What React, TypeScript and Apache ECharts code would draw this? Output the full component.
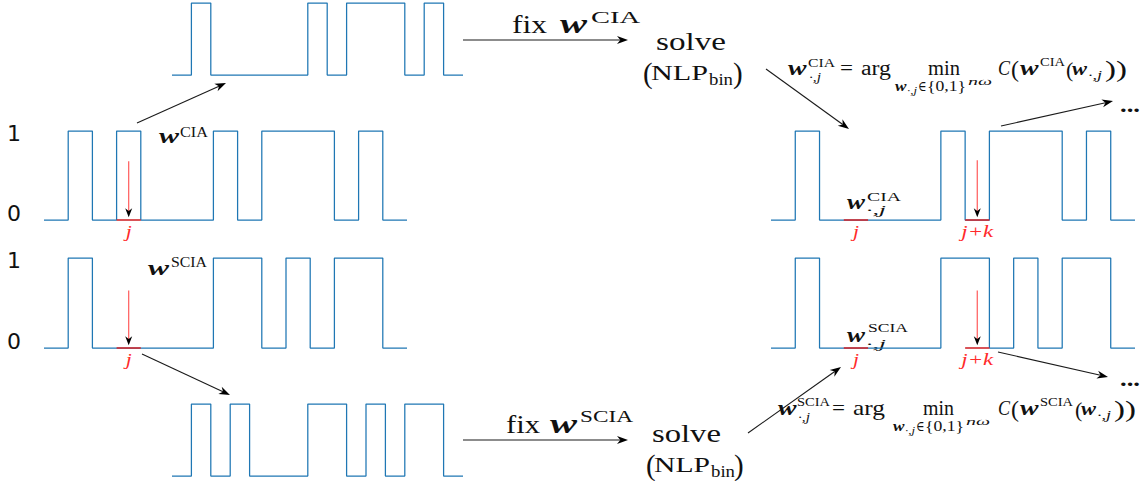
import React, { useEffect, useRef } from "react";
import * as echarts from "echarts";

// ---------------- data ----------------
const N_STEPS = 15;
const wTopNLP = [0, 1, 0, 0, 0, 0, 0, 1, 0, 1, 1, 1, 0, 1, 0];
const wCIA = [0, 1, 0, 1, 0, 0, 0, 1, 0, 1, 1, 1, 0, 1, 0];
const wSCIA = [0, 1, 0, 0, 0, 0, 0, 1, 1, 0, 1, 0, 1, 1, 0];
const wBottomNLP = [0, 1, 0, 1, 0, 0, 0, 1, 1, 0, 1, 0, 1, 1, 0];
const wCIANext = [0, 1, 0, 0, 0, 0, 0, 1, 0, 1, 1, 1, 0, 1, 0];
const wSCIANext = [0, 1, 0, 0, 0, 0, 0, 1, 1, 0, 1, 0, 1, 1, 0];
const yTickLabels = ["1", "0"];
const J = 3;
const K = 5;

const SEQS = [wTopNLP, wCIA, wSCIA, wBottomNLP, wCIANext, wSCIANext];
const HIGHLIGHTS = [[], [J], [J], [], [J, J + K], [J, J + K]];
const PROBES = [null, J, J, null, J + K, J + K];
const PROBE_TOP = [0, 0.66, 0.64, 0, 0.67, 0.64];
const PROBE_LABELS = [[], ["j"], ["j"], [], ["j", "j+k"], ["j", "j+k"]];

// ---------------- layout / style ----------------
const GRIDS = [
  { left: 172, top: 3, width: 291, height: 72 },
  { left: 44, top: 131, width: 363, height: 89 },
  { left: 44, top: 258, width: 363, height: 90 },
  { left: 172, top: 404, width: 291, height: 72 },
  { left: 771, top: 131, width: 364, height: 89 },
  { left: 771, top: 258, width: 364, height: 90 },
];
const INK = "#111111";
const BLUE = "#1f77b4";
const RED_SEG = "#d0282e";
const RED_ARROW = "#ff5a5a";
const RED_TEXT = "#ff2a2a";
const SERIF = '"Liberation Serif", "DejaVu Serif", serif';
const SANS = '"DejaVu Sans", sans-serif';

let mctx: CanvasRenderingContext2D | null = null;
function measure(s: string, size: number, fam: string, it: boolean, b: boolean) {
  if (!mctx) mctx = document.createElement("canvas").getContext("2d");
  if (!mctx) return s.length * size * 0.5;
  mctx.font = `${it ? "italic " : ""}${b ? "bold " : ""}${size}px ${fam}`;
  return mctx.measureText(s).width || 1;
}

type TO = { w?: number; it?: boolean; b?: boolean; c?: string; fam?: string; align?: string };
function T(s: string, x: number, base: number, size: number, o: TO = {}) {
  const fam = o.fam ?? SERIF;
  const it = !!o.it;
  const b = !!o.b;
  const sx = o.w ? o.w / measure(s, size, fam, it, b) : 1;
  return {
    type: "text",
    x,
    y: base - 0.34 * size,
    scaleX: sx,
    silent: true,
    style: {
      text: s,
      fill: o.c ?? INK,
      fontSize: size,
      fontFamily: fam,
      fontStyle: it ? "italic" : "normal",
      fontWeight: b ? "bold" : "normal",
      align: o.align ?? "left",
      verticalAlign: "middle",
    },
  };
}

function arrow(x1: number, y1: number, x2: number, y2: number, shaft = INK, head = INK, lw = 1.1, hl = 11, hw = 4) {
  const dx = x2 - x1, dy = y2 - y1;
  const L = Math.hypot(dx, dy);
  const ux = dx / L, uy = dy / L;
  const bx = x2 - ux * hl, by = y2 - uy * hl;
  const nx = -uy, ny = ux;
  const mx = bx + ux * hl * 0.3, my = by + uy * hl * 0.3;
  return [
    { type: "line", silent: true, shape: { x1, y1, x2: mx, y2: my }, style: { stroke: shaft, lineWidth: lw } },
    {
      type: "polygon",
      silent: true,
      shape: { points: [[x2, y2], [bx + nx * hw, by + ny * hw], [mx, my], [bx - nx * hw, by - ny * hw]] },
      style: { fill: head, stroke: "none" },
    },
  ];
}

const toStep = (seq: number[]) => [...seq.map((v, i) => [i, v]), [seq.length, seq[seq.length - 1]]];

function formula(sup: string, B: number, p: any) {
  const e: any[] = [];
  e.push(T("w", p.w0, B, 20, { b: true, it: true, w: 18.5 }));
  e.push(T(sup, p.sup0, B - 8.5, 13, { w: p.sup0w }));
  e.push(T("·,j", p.sup0 + 1, B + 6, 12, { it: true, w: 12 }));
  e.push(T("=", p.eq, B, 20, { w: 13 }));
  e.push(T("arg", p.eq + 21, B, 20, { w: p.argw }));
  e.push(T("min", p.min, B, 20, { w: p.minw }));
  const S = B + 16;
  e.push(T("w", p.sub, S, 14, { b: true, it: true, w: 11.5 }));
  e.push(T("·,j", p.sub + 12, S + 2.5, 10, { it: true, w: 10 }));
  e.push(T("∈", p.sub + 23, S, 14, { w: 8.5 }));
  e.push(T("{0,1}", p.sub + 32, S, 14, { w: 39 }));
  e.push(T("nω", p.sub + 73, S - 6, 10, { it: true, w: 24 }));
  e.push(T("C", 998, B, 21, { it: true, w: 12 }));
  e.push(T("(", 1011, B + 2, 24));
  e.push(T("w", 1020, B, 20, { b: true, it: true, w: 18.5 }));
  e.push(T(sup, 1040, B - 8.5, 13, { w: p.sup1w }));
  e.push(T("(", p.par2, B + 2, 22));
  e.push(T("w", p.par2 + 6, B, 18, { b: true, it: true, w: 15 }));
  e.push(T("·,j", p.par2 + 22, B + 4, 12, { it: true, w: 14 }));
  e.push(T("))", p.par2 + 39, B + 2, 24, { w: 22 }));
  return e;
}

export default function App() {
  const ref = useRef<HTMLDivElement>(null);
  useEffect(() => {
    if (!ref.current) return;
    const chart = echarts.init(ref.current, undefined, { renderer: "svg" });

    const series: any[] = [];
    SEQS.forEach((seq, i) => {
      series.push({
        type: "line",
        xAxisIndex: i,
        yAxisIndex: i,
        data: toStep(seq),
        step: "end",
        symbol: "none",
        clip: false,
        silent: true,
        lineStyle: { color: BLUE, width: 1.25 },
        z: 2,
      });
      HIGHLIGHTS[i].forEach((h) => {
        series.push({
          type: "line",
          xAxisIndex: i,
          yAxisIndex: i,
          data: [[h, 0], [h + 1, 0]],
          symbol: "none",
          clip: false,
          silent: true,
          lineStyle: { color: RED_SEG, width: 1.6 },
          z: 3,
        });
      });
    });

    chart.setOption({
      animation: false,
      backgroundColor: "#ffffff",
      grid: GRIDS.map((g) => ({ ...g })),
      xAxis: GRIDS.map((_, i) => ({ type: "value", gridIndex: i, min: 0, max: N_STEPS, show: false })),
      yAxis: GRIDS.map((_, i) => ({ type: "value", gridIndex: i, min: 0, max: 1, show: false })),
      series,
    });

    const toPx = (i: number, x: number, y: number) =>
      chart.convertToPixel({ gridIndex: i } as any, [x, y]) as number[];

    const els: any[] = [];
    // y tick labels on the left plots
    [1, 2].forEach((i) => {
      const p1 = toPx(i, 0, 1);
      const p0 = toPx(i, 0, 0);
      els.push(T(yTickLabels[0], 14, p1[1] + 9 + 0.346 * 22 - 0.34 * 22 + 0.365 * 22 - 0.346 * 22, 22, { fam: SANS, align: "center" }));
      els.push(T(yTickLabels[1], 14, p0[1] - 7.5 + 0.365 * 22 - 0.346 * 22 + 0.346 * 22 - 0.34 * 22 + 0.34 * 22 - 0.34 * 22 + 8, 22, { fam: SANS, align: "center" }));
    });
    // probe arrows and labels
    SEQS.forEach((_, i) => {
      const pr = PROBES[i];
      if (pr !== null) {
        const a = toPx(i, pr + 0.5, PROBE_TOP[i]);
        const b = toPx(i, pr + 0.5, 0.03);
        els.push(...arrow(a[0], a[1], b[0], b[1], RED_ARROW, "#000000", 1.2, 9, 3.5));
      }
      HIGHLIGHTS[i].forEach((h, k) => {
        const p = toPx(i, h + 0.5, 0);
        const lab = PROBE_LABELS[i][k];
        if (lab === "j") els.push(T("j", p[0], p[1] + 17, 17, { it: true, c: RED_TEXT, align: "center", w: 6 }));
        else els.push(T("j+k", p[0], p[1] + 17, 17, { it: true, c: RED_TEXT, align: "center", w: 32 }));
      });
    });

    // black arrows
    const BA = [
      [137, 123, 226, 83],
      [142, 354, 230, 395],
      [463, 40, 628, 40],
      [463, 440, 628, 440],
      [766, 69, 849, 129],
      [1001, 126, 1113, 101],
      [748, 433, 841, 367],
      [998, 352, 1108, 377],
    ];
    BA.forEach((a) => els.push(...arrow(a[0], a[1], a[2], a[3], "#1a1a1a", "#000000", 1.1, 11, 4)));

    // top block
    els.push(T("fix", 512, 33, 26, { w: 35 }));
    els.push(T("w", 560, 33, 27, { b: true, it: true, w: 27 }));
    els.push(T("CIA", 591, 23.3, 17, { w: 49 }));
    els.push(T("solve", 656, 50, 26, { w: 70 }));
    els.push(T("(", 643, 83, 29));
    els.push(T("NLP", 651, 80, 22, { w: 57 }));
    els.push(T("bin", 709, 85, 16, { w: 24 }));
    els.push(T(")", 733, 83, 29));
    // bottom block
    els.push(T("fix", 506, 433, 26, { w: 34 }));
    els.push(T("w", 550, 433, 27, { b: true, it: true, w: 27 }));
    els.push(T("SCIA", 580, 421.7, 17, { w: 53 }));
    els.push(T("solve", 652, 442, 26, { w: 69 }));
    els.push(T("(", 646, 475, 29));
    els.push(T("NLP", 654, 472, 22, { w: 56 }));
    els.push(T("bin", 711, 477, 16, { w: 24 }));
    els.push(T(")", 734, 475, 29));

    // formulas
    els.push(...formula("CIA", 75, { w0: 788, sup0: 808, sup0w: 27, eq: 840, argw: 30, min: 928, minw: 32, sub: 895, sup1w: 25, par2: 1066 }));
    els.push(...formula("SCIA", 415, { w0: 778, sup0: 797, sup0w: 33, eq: 832, argw: 32, min: 923, minw: 31, sub: 893, sup1w: 33, par2: 1075 }));

    // left labels
    els.push(T("w", 159, 143, 22, { b: true, it: true, w: 20 }));
    els.push(T("CIA", 180, 136.7, 15, { w: 28 }));
    els.push(T("w", 148, 275, 22, { b: true, it: true, w: 21 }));
    els.push(T("SCIA", 171, 266.5, 15, { w: 36 }));
    // right labels
    els.push(T("w", 847, 209, 20, { b: true, it: true, w: 18 }));
    els.push(T("CIA", 867, 201.5, 13, { w: 34 }));
    els.push(T("·,j", 866, 214, 12, { it: true, w: 20 }));
    els.push(T("w", 847, 342, 20, { b: true, it: true, w: 18 }));
    els.push(T("SCIA", 868, 332, 13, { w: 40 }));
    els.push(T("·,j", 866, 348, 12, { it: true, w: 20 }));
    // ellipses
    els.push(T("...", 1120, 112, 22, { b: true, w: 20 }));
    els.push(T("...", 1120, 386, 22, { b: true, w: 20 }));

    chart.setOption({ graphic: { elements: els } });

    return () => chart.dispose();
  }, []);

  return <div ref={ref} style={{ position: "absolute", left: 0, top: 0, width: 1146, height: 481 }} />;
}
